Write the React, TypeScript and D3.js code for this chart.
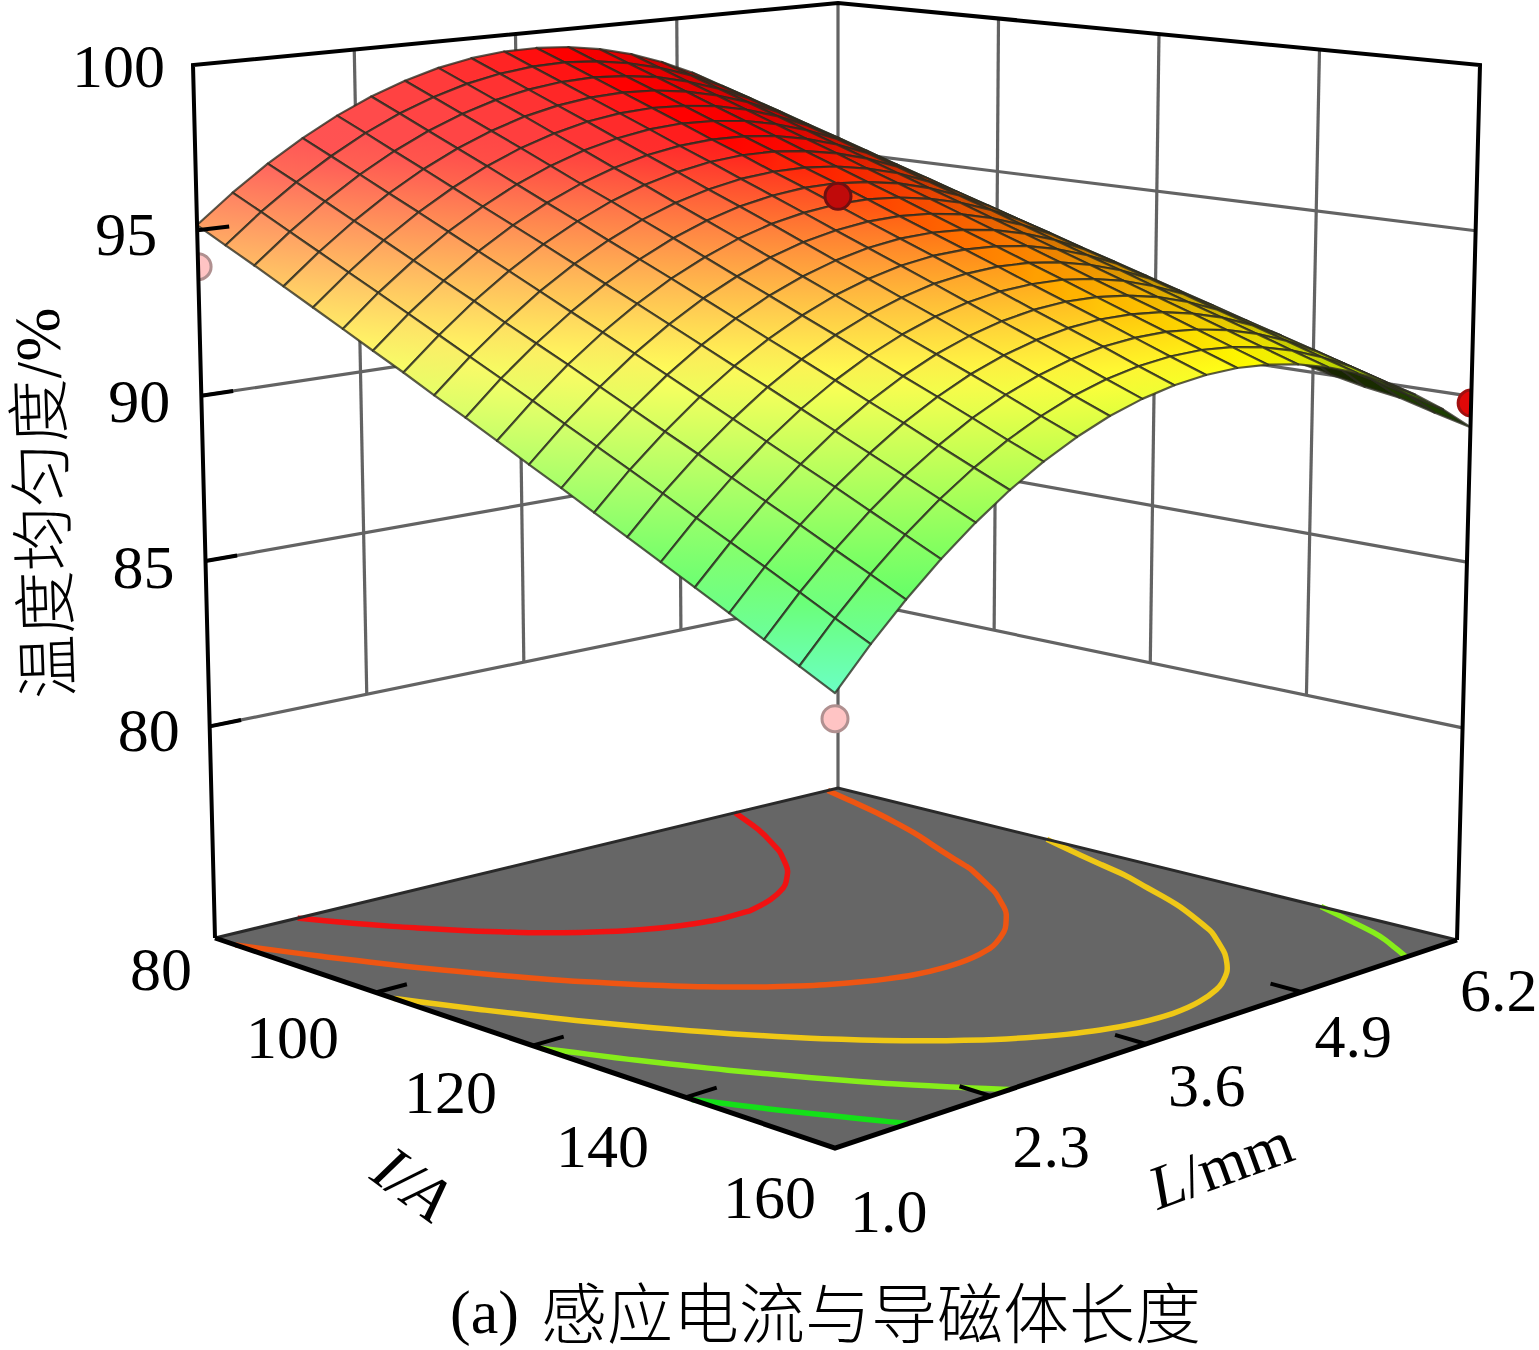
import React from 'react';
import * as d3 from 'd3';

// axis values
const iTicks = [80, 100, 120, 140, 160];
const lTicks = [1.0, 2.3, 3.6, 4.9, 6.2];
const zTicks = [80, 85, 90, 95, 100];
const zFloor = 73.6;

// mesh nodes, read along the edges of the surface
const iGrid = d3.range(21).map((k) => 80 + k * 4);
const lGrid = d3.range(21).map((k) => 1 + k * 0.26);

// uniformity (%): one row per current, one column per length
const surface = [
  [95.16, 96.01, 96.77, 97.43, 98.01, 98.49, 98.87, 99.17, 99.37, 99.48, 99.49, 99.42, 99.25, 98.99, 98.63, 98.18, 97.64, 97.01, 96.28, 95.46, 94.55],
  [94.67, 95.54, 96.31, 96.98, 97.57, 98.06, 98.45, 98.76, 98.97, 99.09, 99.12, 99.05, 98.89, 98.64, 98.3, 97.86, 97.33, 96.71, 95.99, 95.18, 94.28],
  [94.19, 95.06, 95.84, 96.53, 97.12, 97.62, 98.03, 98.35, 98.57, 98.7, 98.74, 98.68, 98.54, 98.29, 97.96, 97.54, 97.02, 96.4, 95.7, 94.9, 94.01],
  [93.7, 94.58, 95.37, 96.07, 96.68, 97.19, 97.61, 97.94, 98.17, 98.31, 98.36, 98.32, 98.18, 97.95, 97.63, 97.21, 96.7, 96.1, 95.41, 94.62, 93.74],
  [93.21, 94.1, 94.91, 95.62, 96.23, 96.76, 97.19, 97.52, 97.77, 97.92, 97.98, 97.94, 97.82, 97.6, 97.29, 96.88, 96.39, 95.8, 95.11, 94.34, 93.47],
  [92.72, 93.63, 94.44, 95.16, 95.78, 96.32, 96.76, 97.11, 97.36, 97.53, 97.6, 97.57, 97.46, 97.25, 96.95, 96.56, 96.07, 95.49, 94.76, 93.93, 92.99],
  [92.23, 93.15, 93.97, 94.7, 95.34, 95.88, 96.33, 96.69, 96.96, 97.13, 97.21, 97.2, 97.1, 96.9, 96.61, 96.23, 95.75, 95.18, 94.43, 93.58, 92.62],
  [91.75, 92.67, 93.51, 94.25, 94.9, 95.45, 95.92, 96.29, 96.56, 96.75, 96.84, 96.84, 96.74, 96.56, 96.28, 95.91, 95.44, 94.88, 94.13, 93.28, 92.3],
  [91.25, 92.19, 93.03, 93.79, 94.45, 95.01, 95.49, 95.87, 96.15, 96.35, 96.45, 96.46, 96.38, 96.2, 95.94, 95.57, 95.12, 94.57, 93.83, 92.99, 92.02],
  [90.77, 91.72, 92.57, 93.33, 94.0, 94.58, 95.07, 95.46, 95.76, 95.96, 96.08, 96.1, 96.02, 95.86, 95.6, 95.25, 94.81, 94.27, 93.54, 92.71, 91.75],
  [90.28, 91.24, 92.11, 92.88, 93.56, 94.15, 94.64, 95.05, 95.36, 95.57, 95.7, 95.73, 95.67, 95.51, 95.27, 94.93, 94.49, 93.97, 93.26, 92.46, 91.53],
  [89.78, 90.75, 91.63, 92.42, 93.11, 93.71, 94.21, 94.63, 94.95, 95.17, 95.31, 95.35, 95.3, 95.16, 94.92, 94.59, 94.17, 93.65, 92.95, 92.17, 91.25],
  [89.3, 90.28, 91.16, 91.96, 92.66, 93.27, 93.79, 94.21, 94.54, 94.78, 94.93, 94.98, 94.94, 94.81, 94.58, 94.26, 93.85, 93.35, 92.68, 91.91, 91.03],
  [88.8, 89.8, 90.69, 91.5, 92.21, 92.83, 93.36, 93.8, 94.14, 94.39, 94.55, 94.61, 94.58, 94.46, 94.24, 93.93, 93.54, 93.04, 92.39, 91.63, 90.76],
  [88.31, 89.32, 90.23, 91.04, 91.77, 92.4, 92.94, 93.38, 93.73, 94.0, 94.16, 94.24, 94.22, 94.11, 93.9, 93.61, 93.22, 92.73, 92.1, 91.37, 90.53],
  [87.82, 88.83, 89.75, 90.58, 91.32, 91.96, 92.51, 92.96, 93.33, 93.6, 93.78, 93.86, 93.86, 93.75, 93.56, 93.27, 92.9, 92.42, 91.8, 91.08, 90.25],
  [87.33, 88.35, 89.28, 90.12, 90.87, 91.52, 92.08, 92.55, 92.92, 93.2, 93.39, 93.49, 93.49, 93.4, 93.22, 92.94, 92.57, 92.11, 91.52, 90.82, 90.02],
  [86.84, 87.88, 88.82, 89.67, 90.42, 91.09, 91.66, 92.14, 92.52, 92.81, 93.01, 93.12, 93.13, 93.06, 92.88, 92.62, 92.26, 91.81, 91.24, 90.57, 89.8],
  [86.34, 87.39, 88.34, 89.2, 89.97, 90.64, 91.23, 91.72, 92.11, 92.41, 92.63, 92.74, 92.77, 92.7, 92.54, 92.29, 91.94, 91.5, 90.97, 90.34, 89.63],
  [85.85, 86.9, 87.87, 88.74, 89.52, 90.2, 90.79, 91.29, 91.7, 92.01, 92.23, 92.36, 92.4, 92.34, 92.19, 91.95, 91.61, 91.19, 90.66, 90.05, 89.34],
  [85.36, 86.43, 87.4, 88.28, 89.07, 89.77, 90.37, 90.88, 91.3, 91.62, 91.85, 91.99, 92.04, 91.99, 91.85, 91.62, 91.3, 90.88, 90.37, 89.77, 89.07],
];

// contour levels on the floor and their colours (ascending, d3.contours keeps this order)
const contourLevels = [87.72, 90.15, 92.45, 94.85, 97.2];
const contourColors = ['#14e018', '#86ee1a', '#efc816', '#ee5512', '#f01212'];

// design points at the four corners
const pointI = [80, 80, 160, 160];
const pointL = [6.2, 1.0, 1.0, 6.2];
const pointZ = [93.5, 93.9, 84.7, 89.8];
const pointFill = ['#c00a0a', '#ffc4c4', '#ffc4c4', '#e00808'];
const pointStroke = ['#701010', '#b09090', '#b09090', '#a01010'];

// corner pixels of the box, order: (80,1.0) (160,1.0) (160,6.2) (80,6.2)
const floorCorners = [[215, 938], [835, 1148], [1457, 940], [838, 788]];
const topCorners = [[193, 65], [835, 127], [1480, 65], [838, 3]];

const aScale = d3.scaleLinear().domain([80, 160]).range([0, 1]);
const bScale = d3.scaleLinear().domain([1, 6.2]).range([0, 1]);
const tScale = d3.scaleLinear().domain([zFloor, 100]).range([0, 1]);

const colorScale = d3
  .scaleLinear<string>()
  .domain([85.4, 87.5, 92, 97, 99.5])
  .range(['#00ff99', '#00ff00', '#ffff00', '#ff0000', '#ff0000'])
  .clamp(true);

const bilerp = (c: number[][], a: number, b: number) =>
  [0, 1].map(
    (k) =>
      (1 - a) * (1 - b) * c[0][k] + a * (1 - b) * c[1][k] + a * b * c[2][k] + (1 - a) * b * c[3][k],
  );

const place = (a: number, b: number, z: number): [number, number] => {
  const t = tScale(z);
  const lo = bilerp(floorCorners, a, b);
  const hi = bilerp(topCorners, a, b);
  return [lo[0] + (hi[0] - lo[0]) * t, lo[1] + (hi[1] - lo[1]) * t];
};

// the mesh foreshortens with depth, the box and its ticks nearly do not
const warp = (v: number, q: number) => (v * (1 + q)) / (1 + q * v);

const project = (I: number, L: number, z: number) => place(aScale(I), bScale(L), z);
const projectFloor = (I: number, L: number) => place(warp(aScale(I), 0.05), bScale(L), zFloor);
const projectMesh = (I: number, L: number, z: number) =>
  place(warp(aScale(I), -0.124), warp(bScale(L), 0.137), z);

const line = d3.line();
const smooth = d3.line().curve(d3.curveBasis);
const poly = (pts: [number, number][]) => line(pts) + 'Z';

// lit colour: the side facing the viewer goes paler, the far side of the ridge darker
const shade = (z: number, slope: number) => {
  const c = colorScale(z);
  if (slope >= 0) {
    return d3.interpolateRgb(c, '#ffffff')(0.42 * Math.sqrt(Math.min(1, slope / 20)));
  }
  return d3.interpolateRgb(c, '#000000')(Math.min(0.85, 0.85 * (slope / 15) ** 2));
};

type Cell = {
  d: string;
  depth: number;
  from: [number, number];
  to: [number, number];
  c0: string;
  c1: string;
};

const cells: Cell[] = [];
d3.range(20).forEach((i) => {
  d3.range(20).forEach((j) => {
    const zs = [surface[i][j], surface[i + 1][j], surface[i + 1][j + 1], surface[i][j + 1]];
    const pts = [
      projectMesh(iGrid[i], lGrid[j], zs[0]),
      projectMesh(iGrid[i + 1], lGrid[j], zs[1]),
      projectMesh(iGrid[i + 1], lGrid[j + 1], zs[2]),
      projectMesh(iGrid[i], lGrid[j + 1], zs[3]),
    ];
    const slope = ((zs[2] + zs[3] - zs[0] - zs[1]) / 2) / 0.05;
    const lo = zs.indexOf(d3.min(zs) as number);
    const hi = zs.indexOf(d3.max(zs) as number);
    cells.push({
      d: poly(pts),
      depth: i - j,
      from: pts[lo],
      to: pts[hi],
      c0: shade(zs[lo], slope),
      c1: shade(zs[hi], slope),
    });
  });
});
cells.sort((p, q) => p.depth - q.depth);

// contour polylines on the floor, without the part d3 closes around the grid border
const contourPaths = d3
  .contours()
  .size([21, 21])
  .thresholds(contourLevels)(surface.flat())
  .map((geo) => {
    const parts: string[] = [];
    geo.coordinates.forEach((polygon) => {
      polygon.forEach((ring) => {
        const inside = (p: number[]) =>
          p[0] >= 0.5 - 1e-6 && p[0] <= 20.5 + 1e-6 && p[1] >= 0.5 - 1e-6 && p[1] <= 20.5 + 1e-6;
        const start = ring.findIndex((p) => !inside(p));
        const ordered = start < 0 ? ring : [...ring.slice(start), ...ring.slice(0, start)];
        let run: [number, number][] = [];
        const flush = () => {
          if (run.length > 1) parts.push(smooth(run) as string);
          run = [];
        };
        ordered.forEach((p) => {
          if (!inside(p)) return flush();
          run.push(projectFloor(80 + (p[1] - 0.5) * 4, 1 + (p[0] - 0.5) * 0.26));
        });
        flush();
      });
    });
    return parts.join('');
  });

const serif = '"Liberation Serif", "DejaVu Serif", serif';
const cjk = '"Noto Sans CJK SC", sans-serif';

const gridColor = '#636363';

const App = () => {
  const gridLines: string[] = [];
  // left wall (I = 80) and right wall (L = 6.2)
  zTicks.slice(0, 4).forEach((z) => {
    gridLines.push(line([project(80, 1, z), project(80, 6.2, z), project(160, 6.2, z)]) as string);
  });
  lTicks.slice(1, 4).forEach((L) => {
    gridLines.push(line([project(80, L, 80), project(80, L, 100)]) as string);
  });
  iTicks.slice(1, 4).forEach((I) => {
    gridLines.push(line([project(I, 6.2, 80), project(I, 6.2, 100)]) as string);
  });
  gridLines.push(line([project(80, 6.2, zFloor), project(80, 6.2, 100)]) as string);

  const clip = poly([
    project(80, 1, 100),
    project(80, 6.2, 100),
    project(160, 6.2, 100),
    project(160, 6.2, zFloor),
    project(160, 1, zFloor),
    project(80, 1, zFloor),
  ]);

  const iOffsets = [[-23, 52], [-31, 67], [-28, 70], [-31, 71], [-19, 70]];
  const lOffsets = [[15, 84], [22, 71], [22, 62], [13, 65], [3, 71]];
  const zOffsets = [[-30, 25], [-31, 27], [-31, 26], [-40, 25], [-28, 22]];

  return (
    <svg
      width={1539}
      height={1350}
      viewBox="0 0 1539 1350"
      style={{ position: 'absolute', left: 0, top: 0, background: '#fff' }}
    >
      <defs>
        <clipPath id="box">
          <path d={clip} />
        </clipPath>
        {cells.map((c, k) => (
          <linearGradient
            key={k}
            id={`cell${k}`}
            gradientUnits="userSpaceOnUse"
            x1={c.from[0]}
            y1={c.from[1]}
            x2={c.to[0]}
            y2={c.to[1]}
          >
            <stop offset="0" stopColor={c.c0} />
            <stop offset="1" stopColor={c.c1} />
          </linearGradient>
        ))}
      </defs>

      {/* walls */}
      {gridLines.map((d, k) => (
        <path key={k} d={d} fill="none" stroke={gridColor} strokeWidth={3.2} />
      ))}

      {/* floor */}
      <path
        d={poly([
          project(80, 1, zFloor),
          project(160, 1, zFloor),
          project(160, 6.2, zFloor),
          project(80, 6.2, zFloor),
        ])}
        fill="#666666"
      />
      {contourPaths.map((d, k) => (
        <path key={k} d={d} fill="none" stroke={contourColors[k]} strokeWidth={5.5} strokeLinejoin="round" />
      ))}
      <path
        d={line([project(80, 1, zFloor), project(80, 6.2, zFloor), project(160, 6.2, zFloor)]) as string}
        fill="none"
        stroke="#2a2a2a"
        strokeWidth={3}
      />

      <g clipPath="url(#box)">
        {cells.map((c, k) => (
          <path
            key={k}
            d={c.d}
            fill={`url(#cell${k})`}
            stroke="#2c2c20"
            strokeOpacity={0.78}
            strokeWidth={2.2}
            strokeLinejoin="round"
          />
        ))}
        {pointI.map((I, k) => {
          const [x, y] = project(I, pointL[k], pointZ[k]);
          return <circle key={k} cx={x} cy={y} r={13} fill={pointFill[k]} stroke={pointStroke[k]} strokeWidth={3} />;
        })}
      </g>

      {/* box edges */}
      <path
        d={line([
          project(80, 1, zFloor),
          project(80, 1, 100),
          project(80, 6.2, 100),
          project(160, 6.2, 100),
          project(160, 6.2, zFloor),
        ]) as string}
        fill="none"
        stroke="#000"
        strokeWidth={4}
      />
      <path
        d={line([project(80, 1, zFloor), project(160, 1, zFloor), project(160, 6.2, zFloor)]) as string}
        fill="none"
        stroke="#000"
        strokeWidth={5}
      />

      {/* ticks */}
      {zTicks.slice(0, 4).map((z) => (
        <path key={z} d={line([project(80, 1, z), project(80, 1.26, z)]) as string} stroke="#000" strokeWidth={4} />
      ))}
      {iTicks.slice(1, 4).map((I) => (
        <path key={I} d={line([projectFloor(I, 1), projectFloor(I, 1.26)]) as string} stroke="#000" strokeWidth={4} />
      ))}
      {lTicks.slice(1, 4).map((L) => (
        <path key={L} d={line([project(160, L, zFloor), project(156, L, zFloor)]) as string} stroke="#000" strokeWidth={4} />
      ))}

      {/* tick labels */}
      <g fontFamily={serif} fontSize={62} fill="#000">
        {zTicks.map((z, k) => {
          const [x, y] = project(80, 1, z);
          return (
            <text key={z} x={x + zOffsets[k][0]} y={y + zOffsets[k][1]} textAnchor="end">
              {z}
            </text>
          );
        })}
        {iTicks.map((I, k) => {
          const [x, y] = project(I, 1, zFloor);
          return (
            <text key={I} x={x + iOffsets[k][0]} y={y + iOffsets[k][1]} textAnchor="end">
              {I}
            </text>
          );
        })}
        {lTicks.map((L, k) => {
          const [x, y] = project(160, L, zFloor);
          return (
            <text key={L} x={x + lOffsets[k][0]} y={y + lOffsets[k][1]}>
              {L.toFixed(1)}
            </text>
          );
        })}
      </g>

      {/* axis titles */}
      <text
        transform="translate(368,1178) rotate(36)"
        fontFamily={serif}
        fontSize={64}
        fontStyle="italic"
      >
        I/A
      </text>
      <text transform="translate(1158,1210) rotate(-20)" fontFamily={serif} fontSize={62}>
        <tspan fontStyle="italic">L</tspan>/mm
      </text>
      <text transform="translate(72,698) rotate(-92)" fontSize={64} fontFamily={cjk} fontWeight={300}>
        温度均匀度<tspan fontFamily={serif}>/%</tspan>
      </text>
      <text x={450} y={1333} fontSize={62} fontFamily={serif}>
        (a)
      </text>
      <text x={541} y={1338} fontSize={66} fontFamily={cjk} fontWeight={300}>
        感应电流与导磁体长度
      </text>
    </svg>
  );
};

export default App;
